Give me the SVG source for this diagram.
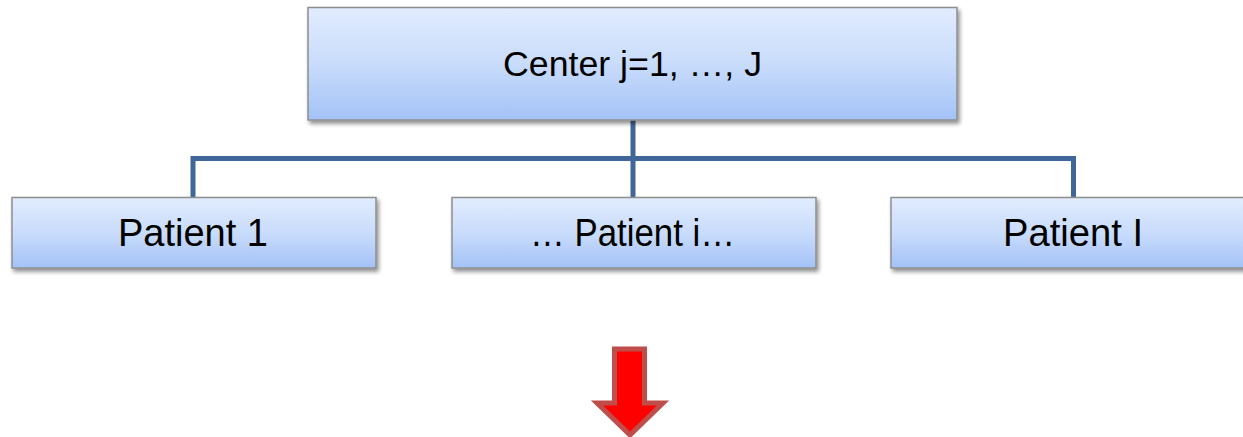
<svg xmlns="http://www.w3.org/2000/svg" width="1243" height="437" viewBox="0 0 1243 437">
  <defs>
    <linearGradient id="boxFill" x1="0" y1="0" x2="0" y2="1">
      <stop offset="0" stop-color="#e1ecfe"/>
      <stop offset="0.5" stop-color="#c9dcfb"/>
      <stop offset="1" stop-color="#a3c2f7"/>
    </linearGradient>
    <filter id="shadow" x="-5%" y="-10%" width="112%" height="130%">
      <feGaussianBlur in="SourceAlpha" stdDeviation="2"/>
      <feOffset dx="2" dy="3" result="blur"/>
      <feComponentTransfer>
        <feFuncA type="linear" slope="0.45"/>
      </feComponentTransfer>
      <feMerge>
        <feMergeNode/>
        <feMergeNode in="SourceGraphic"/>
      </feMerge>
    </filter>
  </defs>
  <style>
    .box { fill: url(#boxFill); stroke: #8e8e8e; stroke-width: 1.5; filter: url(#shadow); }
    .label { font-family: "Liberation Sans", Arial, sans-serif; fill: #000; text-anchor: middle; }
    .link { fill: none; stroke: #41679a; stroke-width: 5; stroke-linejoin: miter; }
    .arrow { fill: #ff0000; stroke: #bf4d4a; stroke-width: 5; stroke-linejoin: miter; }
  </style>

  <!-- tree connectors -->
  <g id="connectors">
    <path class="link" d="M633,120 V198"/>
    <path class="link" d="M193,198 V158.5 H1073.5 V198"/>
  </g>

  <g id="center">
    <rect class="box" x="308" y="7.5" width="649" height="112.5"/>
    <text class="label" x="632.5" y="75.5" font-size="35" textLength="259" lengthAdjust="spacingAndGlyphs">Center j=1, …, J</text>
  </g>

  <g id="patient-1">
    <rect class="box" x="12" y="197.5" width="364" height="70.5"/>
    <text class="label" x="193" y="245.5" font-size="38" textLength="150" lengthAdjust="spacingAndGlyphs">Patient 1</text>
  </g>

  <g id="patient-i">
    <rect class="box" x="452" y="197.5" width="364" height="70.5"/>
    <text class="label" x="632.5" y="245.5" font-size="38" textLength="205" lengthAdjust="spacingAndGlyphs">… Patient i…</text>
  </g>

  <g id="patient-last">
    <rect class="box" x="891" y="197.5" width="364" height="70.5"/>
    <text class="label" x="1073" y="245.5" font-size="38" textLength="140" lengthAdjust="spacingAndGlyphs">Patient I</text>
  </g>

  <!-- downward block arrow -->
  <g id="down-arrow">
    <polygon class="arrow" points="614.5,349 644.5,349 644.5,403 663,403 630,435 597,403 614.5,403"/>
  </g>
</svg>
